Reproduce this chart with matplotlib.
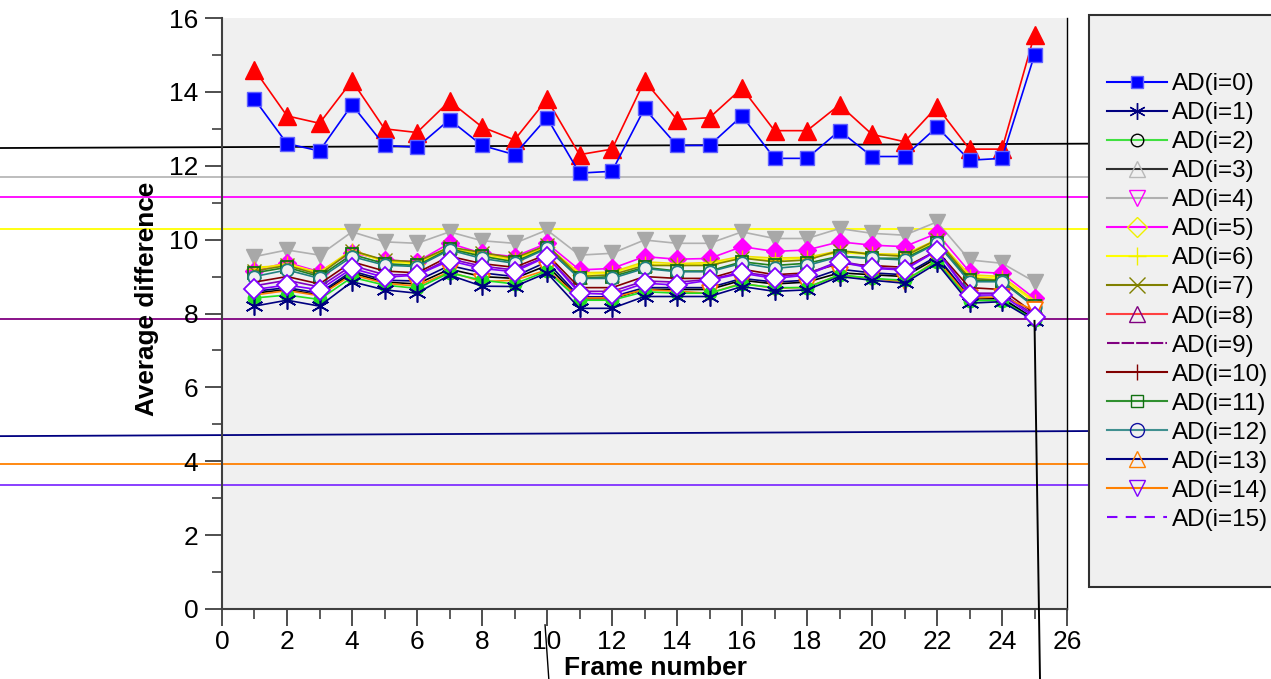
import matplotlib
matplotlib.use("Agg")
import matplotlib.pyplot as plt
import matplotlib.transforms as mtransforms
from matplotlib.lines import Line2D
from matplotlib.patches import Rectangle
from matplotlib.ticker import MultipleLocator

plt.rcParams['font.family'] = ['Liberation Sans', 'DejaVu Sans']

frames = list(range(1, 26))

ad0 = [13.8, 12.6, 12.4, 13.65, 12.55, 12.5, 13.25, 12.55, 12.3, 13.3, 11.8, 11.85, 13.55,
       12.55, 12.55, 13.35, 12.2, 12.2, 12.95, 12.25, 12.25, 13.05, 12.15, 12.2, 15.0]
red_tri = [14.6, 13.35, 13.15, 14.3, 13.0, 12.9, 13.75, 13.05, 12.7, 13.8, 12.3, 12.45, 14.3,
           13.25, 13.3, 14.1, 12.95, 12.95, 13.65, 12.85, 12.65, 13.6, 12.45, 12.45, 15.55]
ad3 = [9.54, 9.72, 9.58, 10.21, 9.94, 9.9, 10.21, 9.97, 9.9, 10.26, 9.58, 9.63, 9.99,
       9.9, 9.9, 10.21, 10.03, 10.03, 10.3, 10.17, 10.12, 10.48, 9.45, 9.36, 8.86]
ad4 = [9.16, 9.38, 9.13, 9.65, 9.45, 9.4, 9.9, 9.63, 9.54, 9.9, 9.18, 9.22, 9.54,
       9.47, 9.49, 9.81, 9.68, 9.72, 9.94, 9.85, 9.81, 10.17, 9.13, 9.09, 8.41]
ad5 = [9.2, 9.35, 9.1, 9.7, 9.4, 9.35, 9.75, 9.55, 9.45, 9.8, 9.05, 9.1, 9.35,
       9.3, 9.35, 9.5, 9.45, 9.5, 9.65, 9.6, 9.55, 9.95, 9.0, 8.95, 8.3]
ad6 = [9.25, 9.3, 9.12, 9.72, 9.42, 9.38, 9.78, 9.6, 9.48, 9.82, 9.1, 9.12, 9.4,
       9.35, 9.38, 9.55, 9.5, 9.52, 9.7, 9.62, 9.6, 10.0, 9.05, 9.0, 8.35]
ad7 = [9.15, 9.3, 9.05, 9.7, 9.45, 9.4, 9.8, 9.65, 9.5, 9.85, 9.0, 9.05, 9.3,
       9.3, 9.3, 9.5, 9.4, 9.45, 9.7, 9.6, 9.55, 10.0, 8.95, 8.9, 8.2]
ad8 = [8.65, 8.77, 8.64, 9.22, 8.98, 9.04, 9.43, 9.22, 9.13, 9.54, 8.55, 8.52, 8.82,
       8.77, 8.9, 9.09, 8.95, 9.04, 9.4, 9.22, 9.18, 9.7, 8.5, 8.5, 7.9]
ad9 = [8.75, 8.9, 8.72, 9.3, 9.05, 9.05, 9.48, 9.28, 9.18, 9.55, 8.6, 8.6, 8.88,
       8.85, 8.92, 9.12, 9.0, 9.07, 9.42, 9.25, 9.2, 9.72, 8.55, 8.55, 7.95]
ad10 = [8.85, 9.0, 8.8, 9.4, 9.15, 9.1, 9.55, 9.35, 9.25, 9.6, 8.7, 8.7, 9.0,
        8.95, 8.95, 9.2, 9.05, 9.1, 9.35, 9.3, 9.25, 9.7, 8.7, 8.65, 8.0]
ad11 = [9.1, 9.25, 9.0, 9.6, 9.35, 9.3, 9.75, 9.55, 9.4, 9.78, 8.95, 9.0, 9.25,
        9.15, 9.15, 9.4, 9.3, 9.36, 9.55, 9.5, 9.49, 9.92, 8.9, 8.88, 8.2]
ad12 = [9.0, 9.18, 8.95, 9.54, 9.31, 9.27, 9.72, 9.49, 9.36, 9.76, 8.95, 8.95, 9.22,
        9.13, 9.13, 9.36, 9.22, 9.3, 9.54, 9.49, 9.45, 9.9, 8.86, 8.86, 8.18]
ad13 = [8.6, 8.7, 8.55, 9.15, 8.9, 8.88, 9.3, 9.1, 9.0, 9.4, 8.45, 8.45, 8.7,
        8.7, 8.7, 8.95, 8.85, 8.9, 9.2, 9.1, 9.05, 9.55, 8.45, 8.42, 7.85]
ad14 = [8.5, 8.62, 8.48, 9.05, 8.82, 8.74, 9.13, 8.86, 8.9, 9.18, 8.42, 8.42, 8.65,
        8.6, 8.55, 8.82, 8.68, 8.71, 9.04, 8.95, 8.86, 9.45, 8.42, 8.45, 8.09]
ad15 = [8.55, 8.65, 8.5, 9.1, 8.85, 8.8, 9.2, 9.0, 8.95, 9.3, 8.4, 8.4, 8.65,
        8.65, 8.65, 8.9, 8.8, 8.85, 9.1, 9.05, 9.0, 9.5, 8.4, 8.4, 7.85]
ad2 = [8.42, 8.5, 8.38, 8.98, 8.77, 8.68, 9.1, 8.9, 8.8, 9.15, 8.36, 8.36, 8.59,
       8.55, 8.55, 8.8, 8.7, 8.7, 9.05, 8.95, 8.9, 9.4, 8.35, 8.35, 7.82]
ad1 = [8.2, 8.36, 8.2, 8.86, 8.64, 8.55, 9.04, 8.74, 8.73, 9.1, 8.14, 8.14, 8.46,
       8.46, 8.46, 8.73, 8.6, 8.64, 9.0, 8.9, 8.82, 9.36, 8.28, 8.32, 7.8]

legend_labels = [f"AD(i={i})" for i in range(16)]

# stray line levels seen in the reference (data units on the y axis)
stray_levels = [(12.48, 12.6, 'black'), (11.7, 11.7, '#b8b8b8'), (11.15, 11.15, '#ff00ff'),
                (10.29, 10.29, '#ffff00'), (7.84, 7.84, '#800080'), (4.68, 4.82, '#000080'),
                (3.93, 3.93, '#ff8000'), (3.36, 3.36, '#8030ff')]

fig = plt.figure(figsize=(12.71, 6.79), dpi=100)
ax = fig.add_axes([222/1271, 1-609/679, (1067-222)/1271, (609-18)/679])
ax.set_facecolor('#f0f0f0')

# stray lines (drawn behind data)
blend = mtransforms.blended_transform_factory(fig.transFigure, ax.transData)
for y0, y1, c in stray_levels:
    ax.add_line(Line2D([0, 1107/1271], [y0, y1], transform=blend, color=c, lw=1.3,
                       clip_on=False, zorder=1))

lw = 1.2
ax.plot(frames, ad3, color='#b0b0b0', lw=lw, marker='v', ms=12, mfc='#a8a8a8', mec='#a8a8a8', zorder=3)
ax.plot(frames, ad4, color='#ff00ff', lw=lw, marker='D', ms=9, mfc='#ff00ff', mec='#ff00ff', zorder=3)
ax.plot(frames, ad5, color='#ffff00', lw=lw, marker='+', ms=11, mec='#f0c000', zorder=3)
ax.plot(frames, ad6, color='#f0e000', lw=lw, zorder=3)
ax.plot(frames, ad7, color='#808000', lw=lw, marker='x', ms=10, mec='#808000', zorder=3)
ax.plot(frames, ad11, color='#208020', lw=lw, marker='s', ms=8, mfc='none', mec='#107010', mew=1.3, zorder=3)
ax.plot(frames, ad12, color='#208080', lw=lw, marker='o', ms=9, mfc='#f0f0f0', mec='#208080', mew=1.3, zorder=3)
ax.plot(frames, ad10, color='#800000', lw=lw, zorder=3)
ax.plot(frames, ad9, color='#8000c0', lw=lw, zorder=3)
ax.plot(frames, ad13, color='#000080', lw=lw, zorder=3)
ax.plot(frames, ad15, color='#000000', lw=lw, zorder=3)
ax.plot(frames, ad14, color='#ff8000', lw=lw, marker='v', ms=12, mfc='white', mec='#ff7000', mew=1.3, zorder=3)
ax.plot(frames, ad8, color='#8000ff', lw=lw, marker='D', ms=10, mfc='white', mec='#8000ff', mew=1.3, zorder=4)
ax.plot(frames, ad2, color='#20e020', lw=lw, marker='o', ms=9, mfc='#20e020', mec='#20e020', zorder=3)
ax.plot(frames, ad1, color='#000080', lw=lw, marker=(6, 2, 0), ms=13, mec='#000080', mew=1.2, zorder=3)
ax.plot(frames, red_tri, color='#ff0000', lw=lw, marker='^', ms=13, mfc='#ff0000', mec='#ff0000', zorder=5)
ax.plot(frames, ad0, color='#0000ff', lw=lw, marker='s', ms=9.5, mfc='#0000ff', mec='#6060ff', zorder=5)

# stray vertical strokes
ax.plot([25, 25.17], [7.8, -1.95], color='black', lw=1.4, clip_on=False, zorder=6)
ax.plot([9.94, 10.06], [-0.43, -1.95], color='black', lw=1.0, clip_on=False, zorder=6)

ax.set_xlim(0, 26)
ax.set_ylim(0, 16)
ax.xaxis.set_major_locator(MultipleLocator(2))
ax.xaxis.set_minor_locator(MultipleLocator(1))
ax.yaxis.set_major_locator(MultipleLocator(2))
ax.yaxis.set_minor_locator(MultipleLocator(1))
ax.spines['top'].set_visible(False)
ax.spines['right'].set_color('black')
ax.spines['right'].set_linewidth(1.0)
for s in ['left', 'bottom']:
    ax.spines[s].set_color('#404040')
    ax.spines[s].set_linewidth(1.5)
ax.tick_params(axis='both', which='major', direction='out', length=12, width=1.3, color='#404040',
               labelsize=19, pad=5)
ax.tick_params(axis='x', which='major', pad=3)
ax.tick_params(axis='both', which='minor', direction='out', length=7, width=1.2, color='#404040')
for lab in ax.get_xticklabels():
    lab.set_family(['Liberation Sans Narrow', 'Liberation Sans'])

ax.set_ylabel('Average difference', fontsize=18.8, fontweight='bold')
ax.yaxis.set_label_coords((147-222)/845, (609-299)/591)
ax.set_xlabel('Frame number', fontsize=19, fontweight='bold',
              family=['Liberation Sans Narrow', 'Liberation Sans'])
ax.xaxis.set_label_coords((655-222)/845, (609-668)/591)
ax.xaxis.label.set_va('center')
ax.yaxis.label.set_va('center')

# legend box
fig.patches.append(Rectangle((1089/1271, 1-587/679), 0.2, (587-15)/679, transform=fig.transFigure,
                             facecolor='#f0f0f0', edgecolor='#303030', lw=1.5, zorder=0))

handles = [
    Line2D([], [], color='#0000ff', marker='s', ms=9, mfc='#0000ff', mec='#6060ff'),
    Line2D([], [], color='#000080', marker=(6, 2, 0), ms=12, mec='#000080'),
    Line2D([], [], color='#40e040', marker='o', ms=9, mfc='none', mec='black'),
    Line2D([], [], color='#303030', marker='^', ms=12, mfc='none', mec='#b8b8b8'),
    Line2D([], [], color='#b0b0b0', marker='v', ms=12, mfc='none', mec='#ff00ff'),
    Line2D([], [], color='#ff00ff', marker='D', ms=10, mfc='none', mec='#f0f000'),
    Line2D([], [], color='#ffff00', marker='+', ms=13, mec='#f0f000'),
    Line2D([], [], color='#808000', marker='x', ms=11, mec='#808000'),
    Line2D([], [], color='#ff4040', marker='^', ms=12, mfc='none', mec='#800080'),
    Line2D([], [], color='#800080', ls=(0, (6, 1))),
    Line2D([], [], color='#800000', marker='|', ms=12, mec='#800000'),
    Line2D([], [], color='#309030', marker='s', ms=9, mfc='none', mec='#107010'),
    Line2D([], [], color='#409090', marker='o', ms=10, mfc='none', mec='#1010a0'),
    Line2D([], [], color='#000080', marker='^', ms=12, mfc='none', mec='#ff8000'),
    Line2D([], [], color='#ff8000', marker='v', ms=12, mfc='none', mec='#8000ff'),
    Line2D([], [], color='#8000ff', ls=(0, (5, 4))),
]
fig.legend(handles, legend_labels, loc='upper left', bbox_to_anchor=(1107/1271, 1-73/679),
           frameon=False, fontsize=17.5, handlelength=2.45, handletextpad=0.22,
           labelspacing=0.29, borderpad=0, borderaxespad=0)

fig.savefig('out.png', dpi=100)
